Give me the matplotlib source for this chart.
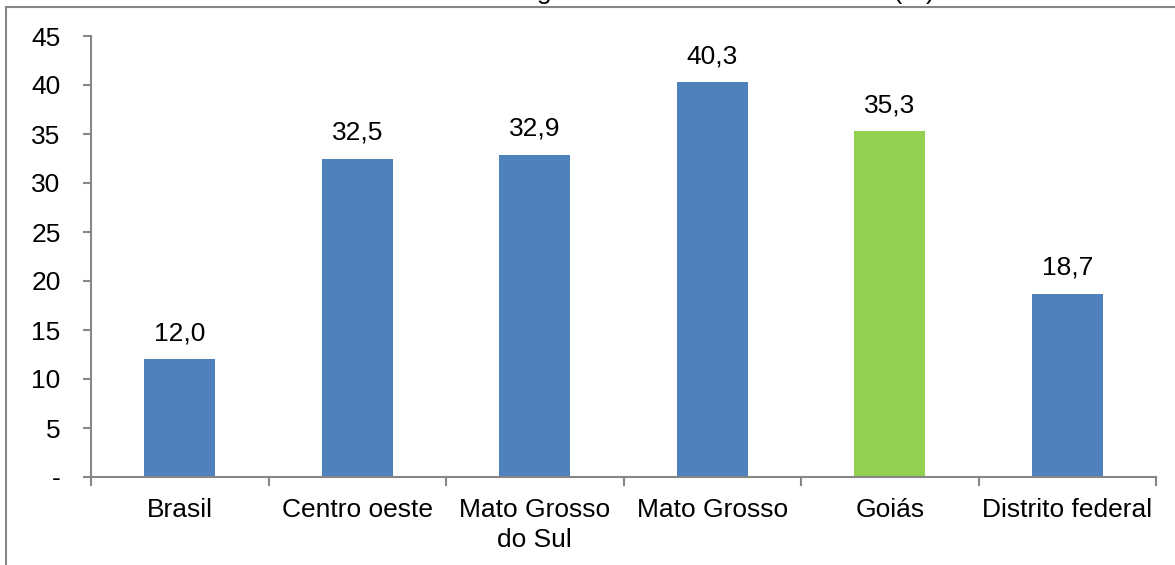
import matplotlib
matplotlib.use("Agg")
import matplotlib.pyplot as plt
from matplotlib.lines import Line2D

plt.rcParams['font.family'] = ['Liberation Sans', 'DejaVu Sans']

categories = ["Brasil", "Centro oeste", "Mato Grosso\ndo Sul", "Mato Grosso", "Goiás", "Distrito federal"]
values = [12.0, 32.5, 32.9, 40.3, 35.3, 18.7]
bar_colors = ["#4F81BD", "#4F81BD", "#4F81BD", "#4F81BD", "#92D050", "#4F81BD"]
y_ticks = [0, 5, 10, 15, 20, 25, 30, 35, 40, 45]
y_tick_labels = ["-", "5", "10", "15", "20", "25", "30", "35", "40", "45"]
title = "Crescimento acumulado do consumo de energia elétrica entre 2004 e 2014 (%)"

W, H = 1175, 565
FS = 19
fig = plt.figure(figsize=(W / 100, H / 100), dpi=100)
ax = fig.add_axes([91 / W, 1 - 477 / H, (1156 - 91) / W, (477 - 36) / H])

x = list(range(len(categories)))
ax.bar(x, values, width=0.4, color=bar_colors, zorder=2)

ax.set_xlim(-0.5, len(categories) - 0.5)
ax.set_ylim(0, 45)
ax.set_yticks(y_ticks)
ax.set_yticklabels(y_tick_labels)
ax.set_xticks(x)
ax.set_xticklabels(categories, linespacing=1.35)

axis_grey = "#868686"
for side in ("top", "right"):
    ax.spines[side].set_visible(False)
for side in ("left", "bottom"):
    ax.spines[side].set_color(axis_grey)
    ax.spines[side].set_linewidth(1.5)

ax.tick_params(axis="y", direction="out", length=5.8, width=1.5, color=axis_grey,
               labelsize=FS, pad=16)
ax.tick_params(axis="x", length=0, labelsize=FS, pad=15)

# tick marks on the category boundaries of the x axis
for b in [i - 0.5 for i in range(len(categories) + 1)]:
    ax.plot([b, b], [0, -0.85], color=axis_grey, lw=1.5, clip_on=False, zorder=3)

for xi, v in zip(x, values):
    ax.annotate(f"{v:.1f}".replace(".", ","), (xi, v), xytext=(0, 10),
                textcoords="offset points", ha="center", va="bottom", fontsize=FS)

# outer frame of the chart area
fig.add_artist(Line2D([6 / W, 6 / W], [0, 1 - 7 / H], color=axis_grey, lw=1.5))
fig.add_artist(Line2D([6 / W, 1], [1 - 7 / H, 1 - 7 / H], color=axis_grey, lw=1.5))

fig.text(4 / W, 1 + 1 / H, title, ha="left", va="baseline", fontsize=FS)

fig.savefig("out.png", dpi=100)
